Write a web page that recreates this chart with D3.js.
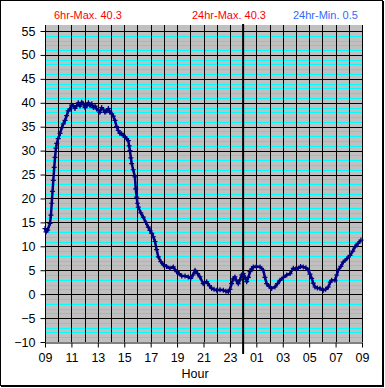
<!DOCTYPE html>
<html>
<head>
<meta charset="utf-8">
<script src="https://cdn.jsdelivr.net/npm/d3@7"></script>
<style>
  html, body { margin: 0; padding: 0; background: #fff; }
  svg { display: block; }
  text { font-family: "Liberation Sans", Arial, sans-serif; }
</style>
</head>
<body>
<svg id="chart" width="385" height="388"></svg>
<script>
// ---- Data ----
const hours = [0.00,0.08,0.20,0.38,0.45,0.51,0.57,0.63,0.70,0.76,0.83,0.89,1.00,1.14,1.27,1.39,1.52,1.64,1.76,1.89,
  2.02,2.14,2.27,2.40,2.52,2.65,2.78,2.90,3.03,3.16,3.29,3.41,3.54,3.66,3.79,3.91,4.04,4.16,4.29,4.42,
  4.54,4.67,4.80,4.92,5.05,5.17,5.30,5.42,5.55,5.68,5.80,5.93,6.06,6.18,6.31,6.37,6.43,6.50,6.56,6.68,
  6.81,6.87,6.94,7.00,7.06,7.25,7.44,7.63,7.82,7.95,8.08,8.20,8.33,8.45,8.58,8.77,8.96,9.20,9.46,9.71,
  9.97,10.15,10.35,10.60,10.85,11.03,11.20,11.36,11.55,11.73,11.98,12.24,12.45,12.62,12.80,13.00,13.25,13.50,13.70,13.88,
  14.00,14.13,14.25,14.38,14.50,14.63,14.76,14.89,15.01,15.14,15.27,15.40,15.52,15.65,15.77,16.00,16.28,16.53,16.65,16.78,
  16.97,17.16,17.41,17.60,17.79,18.05,18.30,18.55,18.80,19.00,19.17,19.35,19.55,19.75,19.93,20.06,20.19,20.31,20.44,20.62,
  20.82,21.07,21.25,21.45,21.60,21.70,21.95,22.08,22.20,22.40,22.58,22.85,23.09,23.30,23.47,23.70,23.92];
const temps = [13.7,13.0,13.4,14.8,16.5,19.0,21.5,23.8,26.5,28.6,30.5,31.5,32.5,33.6,34.8,35.6,36.3,37.3,38.3,38.7,
  39.5,39.4,38.8,39.4,40.0,39.3,40.1,39.8,39.0,39.4,40.0,39.4,39.8,39.0,39.3,38.7,38.5,38.0,39.0,38.6,
  38.0,38.3,38.8,38.0,37.7,37.2,36.3,35.0,34.2,33.6,33.5,33.2,32.8,32.5,32.1,31.0,30.0,28.5,27.3,26.0,
  24.5,22.0,20.3,19.0,18.2,17.0,16.1,15.0,14.0,13.3,12.7,12.0,11.0,9.3,7.8,6.8,6.1,5.8,5.4,5.7,
  4.7,4.3,3.8,3.8,3.6,3.3,4.0,5.0,4.3,3.6,2.2,2.6,1.8,1.2,1.0,0.8,0.9,0.8,0.6,0.5,
  1.0,2.2,3.2,3.6,2.8,2.2,3.0,4.0,4.3,3.5,2.6,3.5,4.7,5.3,5.7,5.8,5.7,5.0,3.5,2.2,
  1.6,1.2,1.5,2.2,2.9,3.5,4.0,4.3,5.4,5.3,5.4,5.8,5.7,5.5,5.0,4.2,3.3,2.3,1.5,1.3,
  1.2,0.8,1.0,1.5,2.5,2.9,2.9,4.0,5.0,5.8,6.7,7.4,8.1,9.0,9.9,10.6,11.3];
const xTickHours = [0,2,4,6,8,10,12,14,16,18,20,22,24];
const xTickLabels = ["09","11","13","15","17","19","21","23","01","03","05","07","09"];
const yTicks = [-10,-5,0,5,10,15,20,25,30,35,40,45,50,55];
const headerLabels = ["6hr-Max. 40.3", "24hr-Max. 40.3", "24hr-Min. 0.5"];
const headerColors = ["#ff0000", "#ff0000", "#3366ff"];
const midnightHour = 15;
const xTitle = "Hour";

// ---- Layout ----
const svg = d3.select("#chart");
const x = d3.scaleLinear().domain([0, 24]).range([45, 362]);
const y = d3.scaleLinear().domain([-10, 55]).range([342, 31]);
const plotTop = 25;

// outer frame
svg.append("rect").attr("x", 0.5).attr("y", 0.5).attr("width", 382).attr("height", 385)
  .attr("fill", "#fff").attr("stroke", "#000").attr("stroke-width", 1);
svg.append("line").attr("x1", 1).attr("x2", 384).attr("y1", 386.5).attr("y2", 386.5).attr("stroke", "#000");
svg.append("line").attr("x1", 383.5).attr("x2", 383.5).attr("y1", 1).attr("y2", 387).attr("stroke", "#000");

// plot background
svg.append("rect").attr("x", x(0)).attr("y", plotTop)
  .attr("width", x(24) - x(0)).attr("height", y(-10) - plotTop)
  .attr("fill", "#c0c0c0");

// minor cyan gridlines
const minor = d3.range(-9, 55).filter(v => v % 5 !== 0);
svg.append("g").selectAll("line").data(minor).join("line")
  .attr("x1", x(0)).attr("x2", x(24))
  .attr("y1", d => Math.round(y(d)) + 0.5).attr("y2", d => Math.round(y(d)) + 0.5)
  .attr("stroke", "#00ffff").attr("stroke-width", 1);

// major horizontal gridlines
svg.append("g").selectAll("line").data(yTicks.filter(v => v > -10)).join("line")
  .attr("x1", x(0)).attr("x2", x(24))
  .attr("y1", d => Math.round(y(d)) + 0.5).attr("y2", d => Math.round(y(d)) + 0.5)
  .attr("stroke", "#000").attr("stroke-width", 1);

// vertical hourly gridlines
svg.append("g").selectAll("line").data(d3.range(1, 25)).join("line")
  .attr("x1", d => Math.round(x(d)) + 0.5).attr("x2", d => Math.round(x(d)) + 0.5)
  .attr("y1", plotTop).attr("y2", y(-10))
  .attr("stroke", "#000").attr("stroke-width", 1);

// axes
const fmtX = d => xTickLabels[xTickHours.indexOf(d)];
const gx = svg.append("g").attr("transform", `translate(0,${Math.round(y(-10)) + 0.5})`)
  .call(d3.axisBottom(x).tickValues(xTickHours).tickFormat(fmtX).tickSize(5).tickSizeOuter(0).tickPadding(6));
const gy = svg.append("g").attr("transform", `translate(${Math.round(x(0)) + 0.5},0)`)
  .call(d3.axisLeft(y).tickValues(yTicks).tickFormat(d3.format("d")).tickSize(5).tickSizeOuter(0).tickPadding(5));
[gx, gy].forEach(g => {
  g.selectAll("text").attr("font-size", 12.5).attr("fill", "#000")
    .style("font-family", "'Liberation Sans', Arial, sans-serif");
  g.selectAll("line, path").attr("stroke", "#000");
});
gy.select(".domain").attr("d", `M0,${plotTop}V${y(-10)}`);

// midnight line
svg.append("line").attr("x1", x(midnightHour)).attr("x2", x(midnightHour))
  .attr("y1", 24).attr("y2", 354).attr("stroke", "#000").attr("stroke-width", 2);

// data line
const pts = hours.map((h, i) => [h, temps[i]]);
svg.append("path").datum(pts)
  .attr("fill", "none").attr("stroke", "#000080").attr("stroke-width", 2.5)
  .attr("stroke-linejoin", "round")
  .attr("d", d3.line().x(d => x(d[0])).y(d => y(d[1])));
svg.append("g").selectAll("path").data(pts).join("path")
  .attr("transform", d => `translate(${x(d[0])},${y(d[1])})`)
  .attr("d", "M-2.5,0H2.5M0,-2.5V2.5")
  .attr("stroke", "#000080").attr("stroke-width", 1.2);

// header labels
const headerX = [54, 192, 293];
svg.append("g").selectAll("text").data(headerLabels).join("text")
  .attr("x", (d, i) => headerX[i]).attr("y", 19)
  .attr("font-size", 11).attr("fill", (d, i) => headerColors[i])
  .text(d => d);

// x title
svg.append("text").attr("x", 195).attr("y", 378).attr("text-anchor", "middle")
  .attr("font-size", 12.5).attr("fill", "#000").text(xTitle);
</script>
</body>
</html>
